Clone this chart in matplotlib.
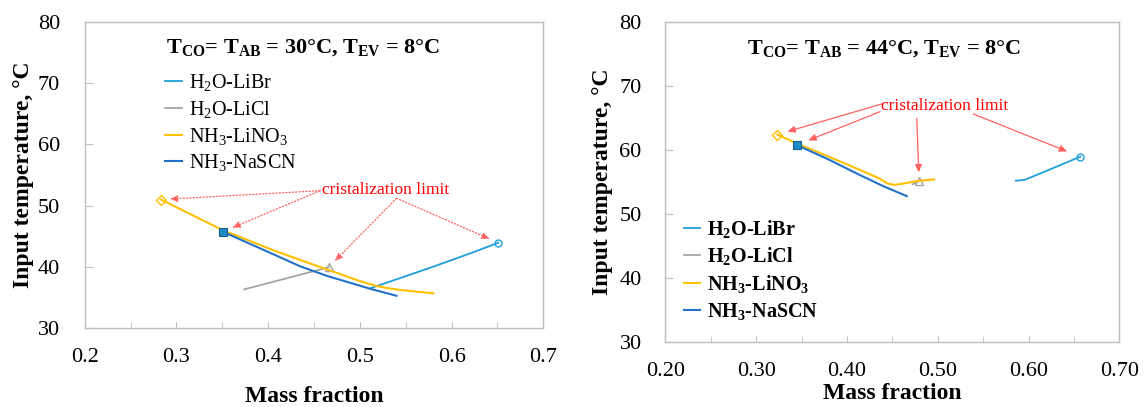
import matplotlib
matplotlib.use("Agg")
import matplotlib.pyplot as plt
from matplotlib.ticker import MultipleLocator, FormatStrFormatter

plt.rcParams['font.family'] = ['Liberation Serif', 'DejaVu Serif']
plt.rcParams['mathtext.fontset'] = 'custom'
plt.rcParams['mathtext.rm'] = 'Liberation Serif'
plt.rcParams['mathtext.default'] = 'regular'

# ---------------- data: left panel (T_CO = T_AB = 30 C) ----------------
L_libr_x = [0.511, 0.55, 0.58, 0.62, 0.651]
L_libr_y = [36.5, 38.5, 40.05, 42.2, 43.95]
L_licl_x = [0.374, 0.466]
L_licl_y = [36.35, 39.95]
L_lino3_x = [0.283, 0.3505, 0.406, 0.464, 0.50, 0.518, 0.53, 0.544, 0.58]
L_lino3_y = [51.0, 46.0, 42.7, 39.6, 37.7, 36.9, 36.55, 36.25, 35.7]
L_nascn_x = [0.3505, 0.406, 0.435, 0.464, 0.511, 0.540]
L_nascn_y = [45.75, 42.05, 40.1, 38.55, 36.45, 35.3]

# ---------------- data: right panel (T_CO = T_AB = 44 C) ----------------
R_libr_x = [0.586, 0.596, 0.62, 0.657]
R_libr_y = [55.2, 55.35, 56.75, 58.95]
R_licl_x = [0.4725, 0.4794]
R_licl_y = [54.65, 55.2]
R_lino3_x = [0.3233, 0.345, 0.38, 0.414, 0.435, 0.445, 0.452, 0.462, 0.477, 0.496]
R_lino3_y = [62.4, 61.0, 58.95, 56.9, 55.6, 54.75, 54.55, 54.75, 55.15, 55.4]
R_nascn_x = [0.3447, 0.38, 0.414, 0.44, 0.4658]
R_nascn_y = [60.77, 58.5, 56.1, 54.35, 52.8]

labels = [r'H$_2$O-LiBr', r'H$_2$O-LiCl', r'NH$_3$-LiNO$_3$', r'NH$_3$-NaSCN']
titles = [r'T$_{CO}$= T$_{AB}$ = 30°C, T$_{EV}$ = 8°C',
          r'T$_{CO}$= T$_{AB}$ = 44°C, T$_{EV}$ = 8°C']
note = 'cristalization limit'
xlabel = 'Mass fraction'
ylabel = 'Input temperature, °C'

# arrow sources (tail points) for the annotation, per panel
L_arrow_src = [(0.4566, 52.44), (0.4566, 52.44), (0.540, 51.2), (0.540, 51.2)]
R_arrow_src = [(0.4383, 67.17), (0.4365, 65.97), (0.4769, 64.93), (0.5392, 65.6)]
L_note_pos = (0.528, 52.55)
R_note_pos = (0.508, 66.85)

c_libr = '#1E9FDB'
c_licl = '#A5A5A5'
c_lino3 = '#FFC000'
c_nascn = '#2272C8'
spine_c = '#BFBFBF'

fig = plt.figure(figsize=(11.45, 4.07), dpi=100)
axL = fig.add_axes([0.0740, 0.1934, 0.4005, 0.7533])
axR = fig.add_axes([0.5811, 0.1590, 0.3965, 0.7877])


def draw(ax, libr, licl, lino3, nascn, src, notepos, title, tpos,
         arrow_ls, shrinks, leg_anchor, leg_bold, xfmt, ytickpad, xlab_y, ylab_x):
    l1, = ax.plot(*libr, color=c_libr, lw=1.3, marker='o', markevery=[len(libr[0]) - 1],
                  ms=5, mfc='none', mec=c_libr, mew=1.0)
    l2, = ax.plot(*licl, color=c_licl, lw=1.3, marker='^', markevery=[len(licl[0]) - 1],
                  ms=6, mfc='none', mec=c_licl, mew=1.0)
    l3, = ax.plot(*lino3, color=c_lino3, lw=1.5, marker='D', markevery=[0],
                  ms=5, mfc='none', mec=c_lino3, mew=1.0)
    l4, = ax.plot(*nascn, color=c_nascn, lw=1.5, marker='s', markevery=[0],
                  ms=5.5, mfc='#1F8BC4', mec='#1A5E8C', mew=0.8)

    ax.set_xlim(0.2, 0.7)
    ax.set_ylim(30, 80)
    ax.xaxis.set_major_locator(MultipleLocator(0.1))
    ax.xaxis.set_minor_locator(MultipleLocator(0.05))
    ax.xaxis.set_major_formatter(FormatStrFormatter(xfmt))
    ax.yaxis.set_major_locator(MultipleLocator(10))
    for s in ax.spines.values():
        s.set_color(spine_c)
        s.set_linewidth(1.0)
    ax.tick_params(axis='x', which='major', direction='in', length=4.5, color=spine_c,
                   labelsize=16, pad=14.5)
    ax.tick_params(axis='x', which='minor', direction='in', length=4, color=spine_c)
    ax.tick_params(axis='y', which='major', direction='in', length=6, color=spine_c,
                   labelsize=16, pad=ytickpad)

    ax.set_xlabel(xlabel, fontsize=17, fontweight='bold')
    ax.set_ylabel(ylabel, fontsize=17, fontweight='bold')
    ax.xaxis.set_label_coords(0.5, xlab_y)
    ax.xaxis.label.set_va('center')
    ax.yaxis.set_label_coords(ylab_x, 0.5)
    ax.yaxis.label.set_va('center')

    ax.text(tpos[0], tpos[1], title, transform=ax.transAxes, ha='center', va='center',
            fontsize=16, fontweight='bold')

    targets = [(lino3[0][0], lino3[1][0]), (nascn[0][0], nascn[1][0]),
               (licl[0][-1], licl[1][-1]), (libr[0][-1], libr[1][-1])]
    for (sx, sy), (tx, ty), sh in zip(src, targets, shrinks):
        ax.annotate('', xy=(tx, ty), xytext=(sx, sy),
                    arrowprops=dict(arrowstyle='-|>,head_length=0.45,head_width=0.2',
                                    color='#FF6060', lw=0.9, ls=arrow_ls,
                                    shrinkA=0, shrinkB=sh))
    ax.text(notepos[0], notepos[1], note, color='#FF0000', fontsize=12.5,
            ha='center', va='center')

    prop = {'size': 14.5}
    if leg_bold:
        prop['weight'] = 'bold'
    ax.legend([l1, l2, l3, l4], labels, loc='upper left', bbox_to_anchor=leg_anchor,
              frameon=False, prop=prop, handlelength=0.8, handletextpad=0.35,
              labelspacing=0.29, borderpad=0, borderaxespad=0)
    leg = ax.get_legend()
    for h in leg.legend_handles:
        h.set_marker('')


draw(axL, (L_libr_x, L_libr_y), (L_licl_x, L_licl_y), (L_lino3_x, L_lino3_y),
     (L_nascn_x, L_nascn_y), L_arrow_src, L_note_pos, titles[0], (0.475, 0.914),
     ':', [6.5, 7.5, 6.3, 6.8], (0.176, 0.836), False, '%.1f', 17.8, -0.222, -0.1332)
draw(axR, (R_libr_x, R_libr_y), (R_licl_x, R_licl_y), (R_lino3_x, R_lino3_y),
     (R_nascn_x, R_nascn_y), R_arrow_src, R_note_pos, titles[1], (0.482, 0.917),
     '-', [7.6, 9.0, 6.0, 10.2], (0.040, 0.389), True, '%.2f', 17.0, -0.16, -0.1388)

fig.savefig('out.png', dpi=100)
